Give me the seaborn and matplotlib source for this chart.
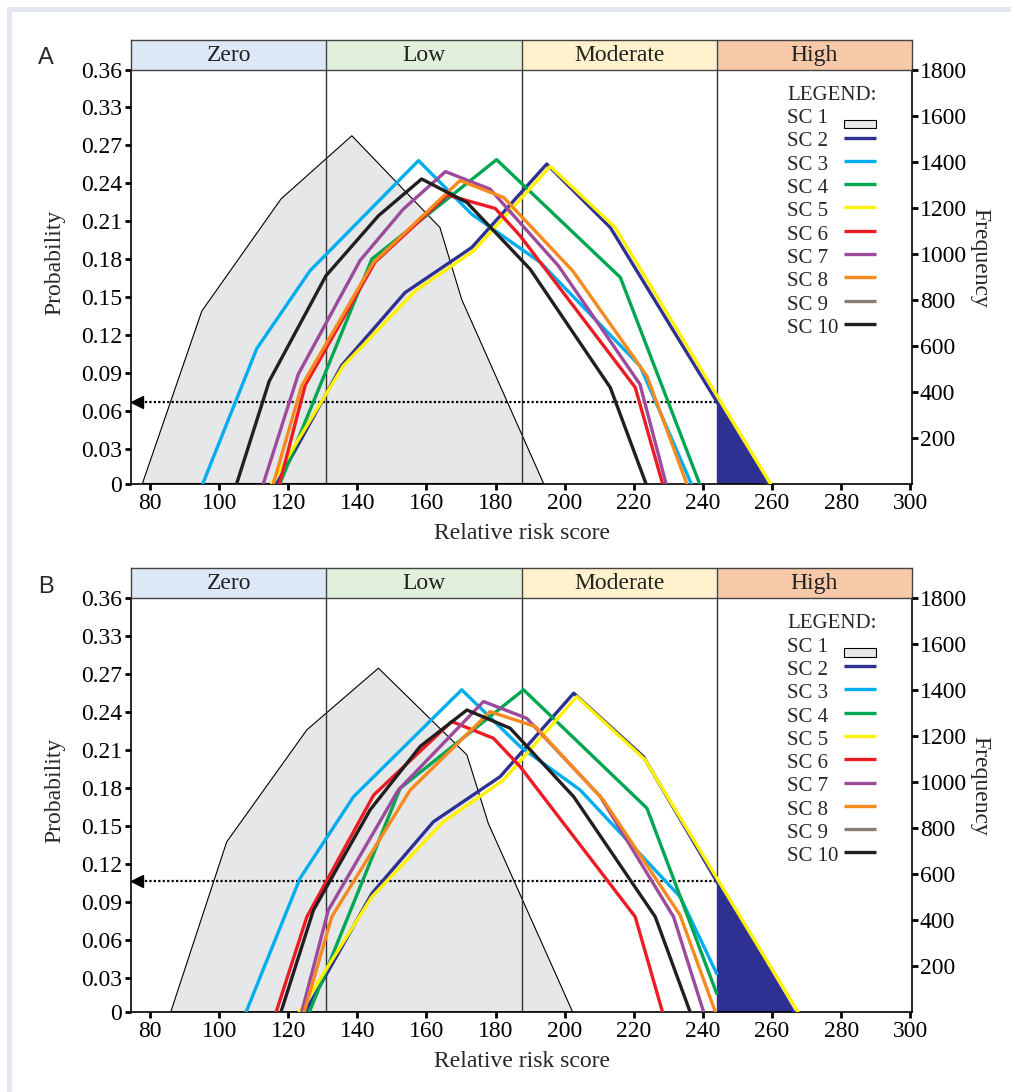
import numpy as np
import matplotlib
matplotlib.use('Agg')
import matplotlib.pyplot as plt
from matplotlib.patches import Rectangle
import seaborn as sns

# 数据 (x: relative risk score, y: frequency)
zones = ['Zero', 'Low', 'Moderate', 'High']
zone_colors = ['#dde9f6', '#e2efda', '#fff2cc', '#f7c9a9']
zone_edges = [74.5, 131.0, 187.5, 244.0, 300.5]

prob_labels = ['0', '0.03', '0.06', '0.09', '0.12', '0.15', '0.18', '0.21', '0.24', '0.27', '0.33', '0.36']
prob_ticks = [0, 150, 315, 480, 645, 810, 975, 1140, 1305, 1470, 1635, 1800]
freq_ticks = [200, 400, 600, 800, 1000, 1200, 1400, 1600, 1800]
x_ticks = [80, 100, 120, 140, 160, 180, 200, 220, 240, 260, 280, 300]

sc_labels = ['SC 1', 'SC 2', 'SC 3', 'SC 4', 'SC 5', 'SC 6', 'SC 7', 'SC 8', 'SC 9', 'SC 10']
sc_colors = ['#e6e7e8', '#2e3192', '#00aeef', '#00a651', '#fff200', '#ed1c24',
             '#9b4a9c', '#f7891f', '#8c7d78', '#231f20']

# panel A
a_sc1_x = [77.8, 95.0, 117.9, 138.4, 163.9, 170.2, 193.9]
a_sc1_y = [0, 750, 1237, 1512, 1113, 800, 0]
a_sc2_x = [116.7, 135.5, 153.8, 173.1, 194.8, 213.2, 258.5]
a_sc2_y = [0, 514, 830, 1026, 1389, 1113, 0]
a_sc3_x = [95.3, 110.9, 126.3, 157.7, 173.1, 192.9, 221.8, 236.6]
a_sc3_y = [0, 587, 925, 1404, 1171, 962, 511, 0]
a_sc4_x = [117.6, 144.2, 180.3, 216.1, 239.0]
a_sc4_y = [0, 976, 1408, 896, 0]
a_sc5_x = [115.2, 135.9, 156.7, 173.6, 195.8, 214.6, 259.5]
a_sc5_y = [0, 511, 837, 1011, 1379, 1113, 0]
a_sc6_x = [117.5, 124.9, 145.1, 166.0, 179.9, 187.1, 220.4, 228.3]
a_sc6_y = [0, 427, 962, 1254, 1196, 1077, 418, 0]
a_sc7_x = [112.8, 122.9, 140.8, 153.3, 165.5, 178.4, 198.2, 221.8, 229.3]
a_sc7_y = [0, 475, 970, 1193, 1356, 1280, 946, 431, 0]
a_sc8_x = [115.7, 123.9, 144.6, 169.7, 182.3, 202.4, 223.8, 235.3]
a_sc8_y = [0, 425, 960, 1317, 1244, 923, 467, 0]
a_sc10_x = [105.1, 114.5, 130.9, 146.1, 158.6, 171.7, 190.0, 213.2, 223.5]
a_sc10_y = [0, 445, 903, 1164, 1324, 1222, 932, 417, 0]

# panel B
b_sc1_x = [86.0, 102.2, 125.4, 146.1, 171.7, 177.9, 202.3]
b_sc1_y = [0, 740, 1227, 1495, 1118, 820, 0]
b_sc2_x = [124.9, 144.2, 162.0, 181.3, 202.6, 222.8, 266.2]
b_sc2_y = [0, 515, 827, 1023, 1386, 1110, 0]
b_sc3_x = [107.8, 123.4, 138.9, 170.2, 187.1, 204.5, 233.4, 244.0]
b_sc3_y = [0, 581, 936, 1401, 1154, 965, 501, 167]
b_sc4_x = [126.1, 152.4, 188.1, 223.8, 244.0]
b_sc4_y = [0, 973, 1401, 886, 80]
b_sc5_x = [123.2, 144.2, 164.9, 182.3, 203.5, 223.3, 267.5]
b_sc5_y = [0, 501, 827, 1009, 1371, 1096, 0]
b_sc6_x = [116.5, 125.4, 144.7, 167.3, 179.4, 187.1, 220.4, 228.3]
b_sc6_y = [0, 414, 943, 1263, 1190, 1067, 414, 0]
b_sc7_x = [123.9, 131.6, 151.8, 176.5, 189.0, 210.3, 231.5, 240.2]
b_sc7_y = [0, 443, 964, 1350, 1277, 937, 414, 0]
b_sc8_x = [124.6, 132.6, 155.3, 178.4, 191.5, 211.2, 233.4, 243.6]
b_sc8_y = [0, 414, 965, 1306, 1241, 921, 421, 0]
b_sc10_x = [117.9, 127.3, 143.7, 158.2, 171.7, 184.2, 202.6, 226.2, 236.3]
b_sc10_y = [0, 443, 879, 1155, 1313, 1234, 936, 414, 0]

# 样式
sns.set_theme(style='white')
plt.rcParams['font.family'] = ['Liberation Serif', 'DejaVu Serif']
plt.rcParams['axes.unicode_minus'] = False

FS = 17
W, H = 1011, 1092
AX_W, AX_H = 781, 414
fig = plt.figure(figsize=(W / 100, H / 100), dpi=100)
fig.patch.set_facecolor('white')

# light frame (top and left strips)
fig.patches.append(Rectangle((7 / W, 1 - 12 / H), 1, 5 / H, transform=fig.transFigure,
                             facecolor='#e3e6f3', edgecolor='none', zorder=0))
fig.patches.append(Rectangle((7 / W, 0), 5 / W, 1 - 7 / H, transform=fig.transFigure,
                             facecolor='#e3e6f3', edgecolor='none', zorder=0))


def draw_legend(ax):
    """手工图例: 文字左对齐, 图例线条右侧对齐"""
    tx = 656 / AX_W
    hx0, hx1 = 713 / AX_W, 745 / AX_W
    ax.text(tx, 1 - 30.3 / AX_H, 'LEGEND:', transform=ax.transAxes, ha='left',
            va='baseline', fontsize=15)
    for i, (lab, col) in enumerate(zip(sc_labels, sc_colors)):
        base = 53.6 + 23.3 * i
        ax.text(tx, 1 - base / AX_H, lab, transform=ax.transAxes, ha='left',
                va='baseline', fontsize=15)
        if i == 0:
            ax.add_patch(Rectangle((hx0, 1 - (base - 3.3) / AX_H), hx1 - hx0, -8.3 / AX_H,
                                   transform=ax.transAxes, facecolor=col, edgecolor='black',
                                   lw=0.8, clip_on=False, zorder=5))
        else:
            yc = 1 - (base - 8.9) / AX_H
            ax.plot([hx0, hx1], [yc, yc], color=col, lw=2.4, transform=ax.transAxes,
                    solid_capstyle='butt', clip_on=False, zorder=5)


def draw_panel(ax, hdr, sc1, lines, letter):
    xmin, xmax = zone_edges[0], zone_edges[-1]

    # header band
    hdr.set_xlim(xmin, xmax)
    hdr.set_ylim(0, 1)
    for i, name in enumerate(zones):
        hdr.axvspan(zone_edges[i], zone_edges[i + 1], color=zone_colors[i], lw=0)
        hdr.text((zone_edges[i] + zone_edges[i + 1]) / 2, 0.47, name, ha='center', va='center',
                 fontsize=FS, color='#222222')
        if i > 0:
            hdr.axvline(zone_edges[i], color='#444444', lw=1.0)
    hdr.set_xticks([])
    hdr.set_yticks([])
    for s in hdr.spines.values():
        s.set_visible(True)
        s.set_color('#444444')
        s.set_linewidth(1.0)

    # SC1 grey area
    ax.fill(sc1[0], sc1[1], facecolor=sc_colors[0], edgecolor='black', lw=0.8, zorder=1)

    # zone dividers
    for e in zone_edges[1:-1]:
        ax.axvline(e, color='#333333', lw=1.0, zorder=2)

    # high-risk area under SC2
    sc2_x, sc2_y = lines[0][1], lines[0][2]
    hi = zone_edges[3]
    fx = [hi] + [v for v in sc2_x if v > hi]
    fy = list(np.interp(fx, sc2_x, sc2_y))
    ax.fill_between(fx, fy, 0, color=sc_colors[1], lw=0, zorder=2)
    arrow_y = float(np.interp(hi, sc2_x, sc2_y))

    # dotted arrow
    ax.plot([xmin + 1.5, hi], [arrow_y, arrow_y], color='black', lw=1.6,
            linestyle=(0, (1, 1)), zorder=2.5)
    ax.plot([xmin + 1.6], [arrow_y], marker='<', color='black', markersize=8, zorder=2.5)

    for lab, xs, ys, col in lines:
        sns.lineplot(x=xs, y=ys, color=col, lw=2.4, ax=ax, estimator=None, sort=False, zorder=3)

    ax.set_xlim(xmin, xmax)
    ax.set_ylim(0, 1800)
    ax.set_xticks(x_ticks)
    ax.set_xticklabels([str(v) for v in x_ticks], fontsize=FS)
    ax.set_yticks(prob_ticks)
    ax.set_yticklabels(prob_labels, fontsize=FS)
    ax.tick_params(axis='both', direction='out', length=4.5, width=2, color='black',
                   pad=2, bottom=True, left=True, labelcolor='black')
    for s in ax.spines.values():
        s.set_visible(True)
        s.set_color('black')
        s.set_linewidth(1.2)
    ax.grid(False)
    ax.set_xlabel('')
    ax.set_ylabel('')

    twin = ax.twinx()
    twin.set_ylim(0, 1800)
    twin.set_yticks(freq_ticks)
    twin.set_yticklabels([str(v) for v in freq_ticks], fontsize=FS)
    twin.tick_params(axis='y', direction='out', length=4.5, width=2, color='black', pad=1,
                     right=True, labelcolor='black')
    twin.grid(False)
    for s in twin.spines.values():
        s.set_visible(False)

    ax.text(0.5, -0.133, 'Relative risk score', transform=ax.transAxes, ha='center',
            va='baseline', fontsize=FS)
    ax.text(-0.097, 0.535, 'Probability', transform=ax.transAxes, ha='center', va='center',
            rotation=90, fontsize=FS)
    ax.text(1.087, 0.545, 'Frequency', transform=ax.transAxes, ha='center', va='center',
            rotation=270, fontsize=FS)
    ax.text(-0.109, 1.027, letter, transform=ax.transAxes, ha='center', va='center',
            fontsize=17, family=['Liberation Sans', 'DejaVu Sans'])

    draw_legend(ax)


left = 131 / W
width = AX_W / W
ax_h = AX_H / H
hdr_h = 30 / H

ax_a = fig.add_axes([left, 1 - 483.5 / H, width, ax_h])
hdr_a = fig.add_axes([left, 1 - 69.5 / H, width, hdr_h])
ax_b = fig.add_axes([left, 1 - 1012 / H, width, ax_h])
hdr_b = fig.add_axes([left, 1 - 598 / H, width, hdr_h])

lines_a = [
    ('SC 2', a_sc2_x, a_sc2_y, sc_colors[1]),
    ('SC 3', a_sc3_x, a_sc3_y, sc_colors[2]),
    ('SC 4', a_sc4_x, a_sc4_y, sc_colors[3]),
    ('SC 5', a_sc5_x, a_sc5_y, sc_colors[4]),
    ('SC 6', a_sc6_x, a_sc6_y, sc_colors[5]),
    ('SC 7', a_sc7_x, a_sc7_y, sc_colors[6]),
    ('SC 8', a_sc8_x, a_sc8_y, sc_colors[7]),
    ('SC 10', a_sc10_x, a_sc10_y, sc_colors[9]),
]
lines_b = [
    ('SC 2', b_sc2_x, b_sc2_y, sc_colors[1]),
    ('SC 3', b_sc3_x, b_sc3_y, sc_colors[2]),
    ('SC 4', b_sc4_x, b_sc4_y, sc_colors[3]),
    ('SC 5', b_sc5_x, b_sc5_y, sc_colors[4]),
    ('SC 6', b_sc6_x, b_sc6_y, sc_colors[5]),
    ('SC 7', b_sc7_x, b_sc7_y, sc_colors[6]),
    ('SC 8', b_sc8_x, b_sc8_y, sc_colors[7]),
    ('SC 10', b_sc10_x, b_sc10_y, sc_colors[9]),
]

draw_panel(ax_a, hdr_a, (a_sc1_x, a_sc1_y), lines_a, 'A')
draw_panel(ax_b, hdr_b, (b_sc1_x, b_sc1_y), lines_b, 'B')

fig.savefig('out.png', dpi=100)
